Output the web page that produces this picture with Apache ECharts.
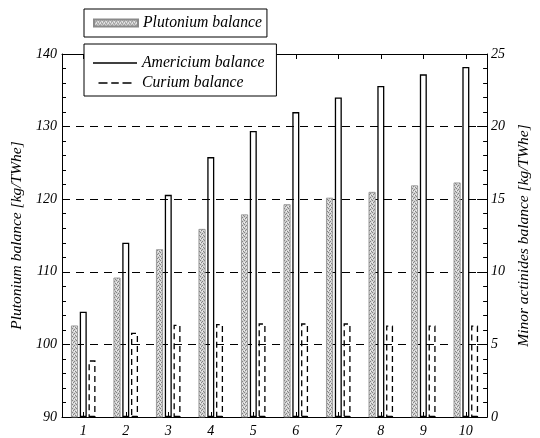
<!DOCTYPE html>
<html>
<head>
<meta charset="utf-8">
<script src="https://cdn.jsdelivr.net/npm/echarts@6/dist/echarts.min.js"></script>
<style>html,body{margin:0;padding:0;background:#fff}#c{width:540px;height:438px}</style>
</head>
<body>
<div id="c"></div>
<script>
// ---- data ----
const categories = ['1','2','3','4','5','6','7','8','9','10'];
const plutonium = [102.6, 109.2, 113.1, 115.9, 117.9, 119.3, 120.2, 121.0, 121.9, 122.3];
const americium = [7.25, 12.0, 15.3, 17.9, 19.7, 21.0, 22.0, 22.8, 23.6, 24.1];
const curium = [3.9, 5.8, 6.35, 6.4, 6.45, 6.45, 6.45, 6.3, 6.3, 6.3];

// stipple pattern for the plutonium bars
const pc = document.createElement('canvas');
pc.width = 4; pc.height = 4;
const g = pc.getContext('2d');
g.fillStyle = '#d0d0d0'; g.fillRect(0,0,4,4);
g.fillStyle = '#858585';
[[0,0],[2,1],[1,2],[3,3]].forEach(p => g.fillRect(p[0],p[1],1,1));
g.fillStyle = '#f0f0f0';
[[2,3],[0,2]].forEach(p => g.fillRect(p[0],p[1],1,1));
const stipple = {image: pc, repeat: 'repeat'};

const font = 'Liberation Serif';
const lab = {fontFamily: font, fontStyle: 'italic', fontSize: 14, color: '#000'};

const chart = echarts.init(document.getElementById('c'), null, {renderer: 'canvas'});
chart.setOption({
  backgroundColor: '#fff',
  animation: false,
  grid: {left: 62, right: 34, top: 54, bottom: 19, containLabel: false},
  legend: [
    {
      data: [{name: 'Plutonium balance', icon: 'rect'}],
      left: 84, top: 9, orient: 'vertical',
      itemWidth: 44, itemHeight: 7, itemGap: 4,
      padding: [6, 5, 6, 9],
      borderColor: '#000', borderWidth: 1, backgroundColor: '#fff',
      textStyle: {fontFamily: font, fontStyle: 'italic', fontSize: 15.7, color: '#000'},
      z: 10
    },
    {
      data: [
        {name: 'Americium balance', icon: 'rect', itemStyle: {color: '#000', borderWidth: 0}},
        {name: 'Curium balance', icon: 'path://M0,0h12v2h-12z M17,0h10v2h-10z M32,0h12v2h-12z', itemStyle: {color: '#000', borderWidth: 0}}
      ],
      left: 84, top: 44, orient: 'vertical',
      itemWidth: 44, itemHeight: 1.5, itemGap: 4,
      padding: [11, 12, 5, 9],
      borderColor: '#000', borderWidth: 1, backgroundColor: '#fff',
      textStyle: {fontFamily: font, fontStyle: 'italic', fontSize: 15.7, color: '#000', lineHeight: 14},
      z: 10
    }
  ],
  xAxis: [
    {
      type: 'category', data: categories, position: 'bottom',
      axisLine: {lineStyle: {color: '#000', width: 1}},
      axisTick: {show: true, inside: true, alignWithLabel: true, length: 5, lineStyle: {color: '#000'}},
      axisLabel: Object.assign({margin: 7}, lab),
      splitLine: {show: false}
    },
    {
      type: 'category', data: categories, position: 'top',
      axisLine: {lineStyle: {color: '#000', width: 1}},
      axisTick: {show: true, inside: true, alignWithLabel: true, length: 5, lineStyle: {color: '#000'}},
      axisLabel: {show: false},
      splitLine: {show: false}
    }
  ],
  yAxis: [
    {
      type: 'value', min: 90, max: 140, interval: 10, position: 'left',
      name: 'Plutonium balance [kg/TWhe]', nameLocation: 'middle', nameGap: 37, nameRotate: 90,
      nameTextStyle: {fontFamily: font, fontStyle: 'italic', fontSize: 15.5, color: '#000'},
      axisLine: {show: true, lineStyle: {color: '#000', width: 1}},
      axisTick: {show: true, inside: true, length: 6, lineStyle: {color: '#000'}},
      minorTick: {show: true, splitNumber: 5, length: 4, lineStyle: {color: '#000'}},
      axisLabel: Object.assign({margin: 5}, lab),
      splitLine: {show: true, lineStyle: {color: '#000', width: 1, type: [8, 6]}}
    },
    {
      type: 'value', min: 0, max: 25, interval: 5, position: 'right',
      name: 'Minor actinides balance [kg/TWhe]', nameLocation: 'middle', nameGap: 18, nameRotate: 90,
      nameTextStyle: {fontFamily: font, fontStyle: 'italic', fontSize: 15.5, color: '#000'},
      axisLine: {show: true, lineStyle: {color: '#000', width: 1}},
      axisTick: {show: true, inside: true, length: 10, lineStyle: {color: '#000'}},
      minorTick: {show: true, splitNumber: 5, length: 4, lineStyle: {color: '#000'}},
      axisLabel: Object.assign({margin: 4}, lab),
      splitLine: {show: false}
    }
  ],
  series: [
    {
      name: 'Plutonium balance', type: 'bar', xAxisIndex: 0, yAxisIndex: 0,
      data: plutonium, barWidth: 7, barGap: '25%',
      itemStyle: {color: stipple, borderColor: '#8a8a8a', borderWidth: 0.8}
    },
    {
      name: 'Americium balance', type: 'bar', xAxisIndex: 0, yAxisIndex: 1,
      data: americium, barWidth: 7, barGap: '25%',
      itemStyle: {color: 'rgba(255,255,255,0)', borderColor: '#000', borderWidth: 1.3}
    },
    {
      name: 'Curium balance', type: 'bar', xAxisIndex: 0, yAxisIndex: 1,
      data: curium, barWidth: 7, barGap: '25%',
      itemStyle: {color: 'rgba(255,255,255,0)', borderColor: '#000', borderWidth: 1.3, borderType: [6, 4]}
    }
  ]
});
</script>
</body>
</html>
